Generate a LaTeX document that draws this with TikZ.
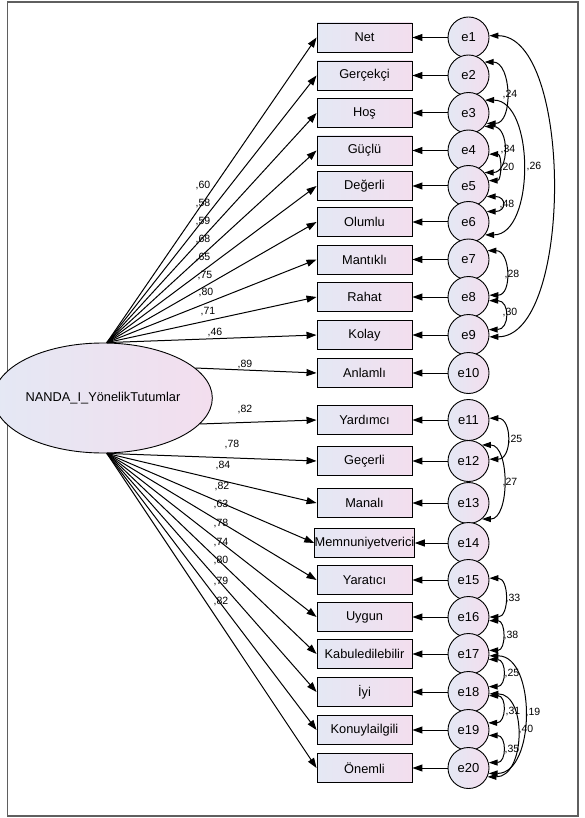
\documentclass[tikz,border=0pt]{standalone}
\usepackage{fontspec}
\setmainfont{Liberation Sans}
\usetikzlibrary{arrows.meta,shapes.geometric}
\definecolor{boxL}{RGB}{228,232,244}
\definecolor{boxR}{RGB}{243,222,238}
\definecolor{frameC}{RGB}{95,95,95}
\begin{document}
\begin{tikzpicture}[x=1pt,y=-1pt,
  obs/.style={draw=black, line width=0.9pt, rectangle, minimum width=95pt, minimum height=29pt,
    left color=boxL, right color=boxR, inner sep=0pt, font=\fontsize{12.8}{14}\selectfont},
  err/.style={draw=black, line width=0.9pt, circle, minimum size=41pt, inner sep=0pt,
    left color=boxL, right color=boxR, font=\fontsize{13}{14}\selectfont},
  lat/.style={draw=black, line width=0.9pt, ellipse, minimum width=192pt, minimum height=110pt,
    inner sep=0pt, left color=boxL, right color=boxR, font=\fontsize{12.8}{14}\selectfont},
  arr/.style={line width=1pt, -{Triangle[length=10pt,width=7pt]}},
  cov/.style={line width=1pt, {Triangle[length=9pt,width=6pt]}-{Triangle[length=9pt,width=6pt]}},
  coef/.style={inner sep=0pt, font=\fontsize{10.5}{12}\selectfont}]
\useasboundingbox (0,0) rectangle (585,818);
\draw[frameC, line width=1.6pt] (7.5,2) rectangle (578,816);

\node[lat] (L) at (103,398) {NANDA\_I\_YönelikTutumlar};

\foreach \i/\t/\y in {1/Net/37.5, 2/Gerçekçi/75.5, 3/Hoş/113, 4/Güçlü/150.5, 5/Değerli/186,
  6/Olumlu/222, 7/Mantıklı/259.5, 8/Rahat/297, 9/Kolay/335, 10/Anlamlı/373,
  11/Yardımcı/420, 12/Geçerli/461, 13/Manalı/503, 14/Memnuniyetverici/543, 15/Yaratıcı/580,
  16/Uygun/617, 17/Kabuledilebilir/654, 18/İyi/692, 19/Konuylailgili/730, 20/Önemli/768} {
  \node[obs] (v\i) at (364.5,\y) {\t};
  \node[err] (e\i) at (468.5,\y) {e\i};
  \draw[arr] (e\i.west) -- (v\i.east);
}

\foreach \i in {1,...,9} \draw[arr] (L.86) -- (v\i.west);
\draw[arr] (L.18) -- (v10.west);
\draw[arr] (L.-15) -- (v11.west);
\foreach \i in {12,...,20} \draw[arr] (L.-86) -- (v\i.west);

% loadings
\foreach \x/\y/\t in {203/186/{,60}, 203/204/{,58}, 203/222/{,59}, 203/240/{,68}, 203/258/{,65},
  205/276/{,75}, 206/293/{,80}, 208/312/{,71}, 215/333/{,46}, 245/365/{,89}, 245/410/{,82},
  232/445/{,78}, 223/466/{,84}, 222/487/{,82}, 221/505/{,63}, 221/524/{,78}, 221/543/{,74},
  221/561/{,80}, 221/581/{,79}, 221/601/{,82}}
  \node[coef] at (\x,\y) {\t};

% covariances upper group
\draw[cov] (e1.5) .. controls +(84,0) and +(84,0) .. (e9.-5);
\draw[cov] (e2.40) .. controls +(27,0) and +(27,0) .. (e3.-30);
\draw[cov] (e3.38) .. controls +(50,0) and +(50,0) .. (e6.-38);
\draw[cov] (e3.-40) .. controls +(25,0) and +(25,0) .. (e5.40);
\draw[cov] (e4.-10) .. controls +(13,0) and +(13,0) .. (e5.15);
\draw[cov] (e5.-30) .. controls +(20,0) and +(20,0) .. (e6.30);
\draw[cov] (e7.25) .. controls +(23,0) and +(23,0) .. (e8.5);
\draw[cov] (e8.-10) .. controls +(21,0) and +(21,0) .. (e9.15);
% covariances lower group
\draw[cov] (e11.5) .. controls +(23,0) and +(23,0) .. (e12.5);
\draw[cov] (e12.50) .. controls +(28,0) and +(28,0) .. (e13.-50);
\draw[cov] (e15.5) .. controls +(20,0) and +(20,0) .. (e16.0);
\draw[cov] (e16.-10) .. controls +(17,0) and +(17,0) .. (e17.10);
\draw[cov] (e17.-15) .. controls +(18,0) and +(18,0) .. (e18.15);
\draw[cov] (e18.-10) .. controls +(18,0) and +(18,0) .. (e19.20);
\draw[cov] (e19.-15) .. controls +(18,0) and +(18,0) .. (e20.15);
\draw[cov] (e17.-5) .. controls +(47,0) and +(47,0) .. (e20.-15);
\draw[cov] (e18.-5) .. controls +(38,0) and +(38,0) .. (e20.-25);

\foreach \x/\y/\t in {510/95/{,24}, 508/150/{,34}, 507/168/{,20}, 534/167/{,26}, 507/205/{,48},
  512/275/{,28}, 510/313/{,30}, 515/440/{,25}, 510/483/{,27}, 513/598/{,33}, 511/635/{,38},
  512/673/{,25}, 513/711/{,31}, 533/712/{,19}, 526/729/{,40}, 512/749/{,35}}
  \node[coef] at (\x,\y) {\t};
\end{tikzpicture}
\end{document}
